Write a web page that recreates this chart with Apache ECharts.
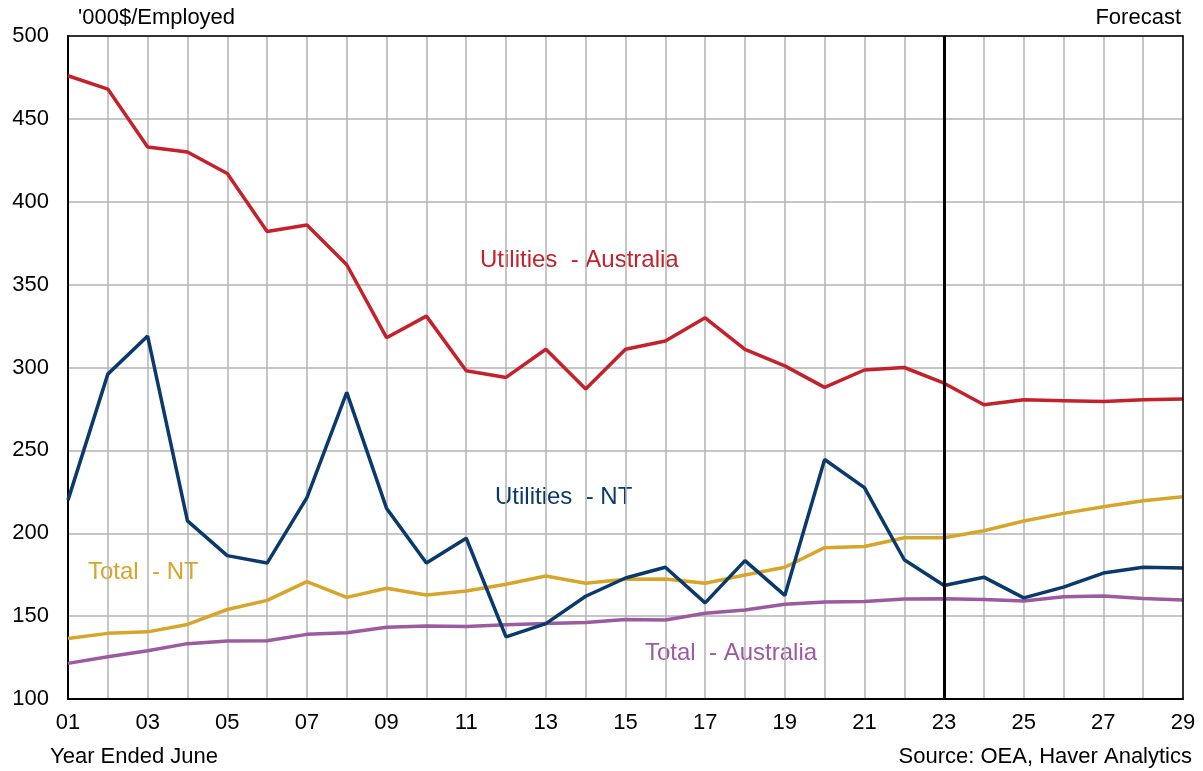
<!DOCTYPE html>
<html>
<head>
<meta charset="utf-8">
<script src="https://cdn.jsdelivr.net/npm/echarts@6/dist/echarts.min.js"></script>
<style>
  html, body { margin: 0; padding: 0; background: #ffffff; }
  #chart { width: 1203px; height: 771px; }
</style>
</head>
<body>
<div id="chart"></div>
<script>
// Financial years ended June, 2001 to 2029
const years = ['01','02','03','04','05','06','07','08','09','10','11','12','13','14','15',
               '16','17','18','19','20','21','22','23','24','25','26','27','28','29'];

// '000$ per employed person
const utilitiesAustralia = [476, 468, 433, 430, 417, 382, 386, 362, 318, 331, 298, 294, 311, 287, 311,
                            316, 330, 311, 301, 288, 298.5, 300, 290.5, 277.5, 280.5, 280, 279.5, 280.5, 281];
const utilitiesNT = [220, 296, 319, 207.5, 186.5, 182, 221.5, 285, 215, 182, 197, 137.5, 145.5, 162, 173,
                     179.5, 158, 183.5, 162.5, 244.5, 227.5, 184, 168.5, 173.5, 161, 167.5, 176, 179.5, 179];
const totalNT = [136.5, 139.6, 140.5, 145, 154, 159.5, 170.8, 161.3, 166.8, 162.7, 165.2, 169.2, 174.2, 169.8, 172.2,
                 172.4, 169.8, 174.8, 179.5, 191.3, 192, 197.3, 197.3, 201.5, 207.4, 212, 216, 219.6, 222];
const totalAustralia = [121.5, 125.5, 129.1, 133.4, 135, 135.2, 139, 140, 143.3, 144, 143.8, 144.8, 145.6, 146.2, 148,
                        147.7, 151.7, 153.7, 157.1, 158.5, 158.8, 160.3, 160.5, 160, 159.1, 161.7, 162.1, 160.7, 159.8];

const yTicks = [100, 150, 200, 250, 300, 350, 400, 450, 500];
const forecastStart = '23';

const RED = '#C4212B';
const NAVY = '#0A3A6B';
const GOLD = '#D8A52B';
const PURPLE = '#9C5AA0';
const GRID_GREY = '#b3b3b3';
const FONT = 'Liberation Sans, Arial, sans-serif';

const chart = echarts.init(document.getElementById('chart'), null, { renderer: 'canvas' });

function lineSeries(name, data, color, extra) {
  return Object.assign({
    name: name,
    type: 'line',
    data: data,
    symbol: 'none',
    smooth: false,
    lineStyle: { color: color, width: 3.5 },
    itemStyle: { color: color },
    z: 3
  }, extra || {});
}

chart.setOption({
  animation: false,
  backgroundColor: '#ffffff',
  grid: { left: 68, right: 20, top: 36, bottom: 72 },
  xAxis: [
    {
      type: 'category',
      data: years,
      boundaryGap: false,
      axisLine: { show: true, lineStyle: { color: '#000000', width: 2 } },
      axisTick: { show: false },
      axisLabel: { interval: 1, color: '#000000', fontFamily: FONT, fontSize: 22, margin: 13 },
      splitLine: { show: true, interval: 0, lineStyle: { color: GRID_GREY, width: 1.5 } }
    },
    {
      // top frame of the plot area
      type: 'category',
      data: years,
      position: 'top',
      boundaryGap: false,
      axisLine: { show: true, onZero: false, lineStyle: { color: '#000000', width: 1.5 } },
      axisTick: { show: false },
      axisLabel: { show: false },
      splitLine: { show: false },
      z: 4
    }
  ],
  yAxis: [
    {
      type: 'value',
      min: yTicks[0],
      max: yTicks[yTicks.length - 1],
      interval: 50,
      axisLine: { show: true, lineStyle: { color: '#000000', width: 2 } },
      axisTick: { show: false },
      axisLabel: { color: '#000000', fontFamily: FONT, fontSize: 22, margin: 19 },
      splitLine: { show: true, lineStyle: { color: GRID_GREY, width: 1.5 } }
    },
    {
      // right frame of the plot area
      type: 'value',
      position: 'right',
      min: yTicks[0],
      max: yTicks[yTicks.length - 1],
      interval: 50,
      axisLine: { show: true, onZero: false, lineStyle: { color: '#000000', width: 1.5 } },
      axisTick: { show: false },
      axisLabel: { show: false },
      splitLine: { show: false },
      z: 4
    }
  ],
  series: [
    lineSeries('Total - Australia', totalAustralia, PURPLE),
    lineSeries('Total - NT', totalNT, GOLD),
    lineSeries('Utilities - NT', utilitiesNT, NAVY),
    lineSeries('Utilities - Australia', utilitiesAustralia, RED, {
      markLine: {
        silent: true,
        symbol: 'none',
        label: { show: false },
        lineStyle: { color: '#000000', width: 3, type: 'solid' },
        data: [{ xAxis: forecastStart }]
      }
    })
  ],
  graphic: [
    { type: 'text', left: 78, top: 7, style: { text: "'000$/Employed", font: '22px ' + FONT, fill: '#000000' } },
    { type: 'text', right: 22, top: 7, style: { text: 'Forecast', font: '22px ' + FONT, fill: '#000000' } },
    { type: 'text', left: 50, top: 746, style: { text: 'Year Ended June', font: '22px ' + FONT, fill: '#000000' } },
    { type: 'text', right: 11, top: 746, style: { text: 'Source: OEA, Haver Analytics', font: '22px ' + FONT, fill: '#000000' } },
    { type: 'text', left: 480, top: 248, style: { text: 'Utilities  - Australia', font: '24px ' + FONT, fill: RED } },
    { type: 'text', left: 495, top: 485, style: { text: 'Utilities  - NT', font: '24px ' + FONT, fill: NAVY } },
    { type: 'text', left: 88, top: 560, style: { text: 'Total  - NT', font: '24px ' + FONT, fill: GOLD } },
    { type: 'text', left: 645, top: 641, style: { text: 'Total  - Australia', font: '24px ' + FONT, fill: PURPLE } }
  ]
});
</script>
</body>
</html>
